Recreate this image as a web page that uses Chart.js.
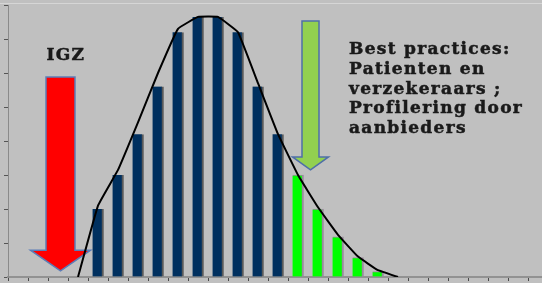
<!DOCTYPE html>
<html>
<head>
<meta charset="utf-8">
<script src="https://cdn.jsdelivr.net/npm/chart.js@4/dist/chart.umd.min.js"></script>
<style>
  html, body { margin: 0; padding: 0; background: #c0c0c0; overflow: hidden; }
  #wrap { position: relative; width: 548px; height: 283px; }
</style>
</head>
<body>
<div id="wrap"><canvas id="c"></canvas></div>
<script>
// ---- data ----
const categories = ["1","2","3","4","5","6","7","8","9","10","11","12","13","14","15","16","17","18","19","20","21","22","23","24","25","26","27"];
const blueValues  = [null,null,null,null, 2, 3, 4.2, 5.6, 7.2, 7.65, 7.65, 7.2, 5.6, 4.2, null,null,null,null,null,null,null,null,null,null,null,null,null];
const greenValues = [null,null,null,null,null,null,null,null,null,null,null,null,null,null, 3, 2, 1.18, 0.57, 0.16, null,null,null,null,null,null,null,null];
const curveValues = [null,null,null, 0, 2.1, 3.15, 4.55, 6.0, 7.3, 7.65, 7.65, 7.2, 5.7, 4.2, 3.0, 2.05, 1.24, 0.6, 0.2, 0, null,null,null,null,null,null,null];
const yMax = 8;
const leftLabel = "IGZ";
const rightLabel = ["Best practices:", "Patienten en", "verzekeraars ;", "Profilering door", "aanbieders"];

// annotation arrows (x = category index, y = value)
const redArrow   = { x: 2.125, top: 5.88, headBase: 0.79, tip: 0.18, shaftHalf: 14.5, headHalf: 30, fill: "#ff0000", stroke: "#5b7db8" };
const greenArrow = { x: 14.625, top: 7.53, headBase: 3.53, tip: 3.15, shaftHalf: 8.5, headHalf: 18, fill: "#92d050", stroke: "#4f6fa8" };

function drawArrow(ctx, xs, ys, a) {
  const cx = xs.getPixelForValue(a.x);
  const t = ys.getPixelForValue(a.top);
  const hb = ys.getPixelForValue(a.headBase);
  const tip = ys.getPixelForValue(a.tip);
  ctx.save();
  ctx.beginPath();
  ctx.moveTo(cx - a.shaftHalf, t);
  ctx.lineTo(cx + a.shaftHalf, t);
  ctx.lineTo(cx + a.shaftHalf, hb);
  ctx.lineTo(cx + a.headHalf, hb);
  ctx.lineTo(cx, tip);
  ctx.lineTo(cx - a.headHalf, hb);
  ctx.lineTo(cx - a.shaftHalf, hb);
  ctx.closePath();
  ctx.fillStyle = a.fill;
  ctx.fill();
  ctx.lineWidth = 1.5;
  ctx.strokeStyle = a.stroke;
  ctx.stroke();
  ctx.restore();
}

const decor = {
  id: "decor",
  beforeDraw(chart) {
    const ctx = chart.ctx;
    ctx.save();
    ctx.fillStyle = "#c0c0c0";
    ctx.fillRect(0, 0, chart.width, chart.height);
    ctx.strokeStyle = "#d6d6d6";
    ctx.lineWidth = 1;
    ctx.beginPath();
    ctx.moveTo(0, chart.chartArea.top - 1.5);
    ctx.lineTo(chart.width, chart.chartArea.top - 1.5);
    ctx.stroke();
    ctx.restore();
  },
  beforeDatasetsDraw(chart) {
    const ctx = chart.ctx;
    const xs = chart.scales.x, ys = chart.scales.y;
    drawArrow(ctx, xs, ys, redArrow);
    drawArrow(ctx, xs, ys, greenArrow);
  },
  afterDatasetsDraw(chart) {
    const ctx = chart.ctx;
    const xs = chart.scales.x;
    ctx.save();
    ctx.fillStyle = "#1a1a1a";
    ctx.strokeStyle = "#1a1a1a";
    ctx.lineWidth = 0.5;
    ctx.font = "bold 17px 'DejaVu Serif'";
    ctx.letterSpacing = "1.3px";
    ctx.textBaseline = "alphabetic";
    ctx.textAlign = "left";
    const ix = xs.getPixelForValue(redArrow.x) - 14;
    ctx.fillText(leftLabel, ix, 60);
    ctx.strokeText(leftLabel, ix, 60);
    const lx = xs.getPixelForValue(16.55);
    rightLabel.forEach((s, i) => {
      ctx.fillText(s, lx, 54 + i * 19.8);
      ctx.strokeText(s, lx, 54 + i * 19.8);
    });
    ctx.restore();
  }
};

new Chart(document.getElementById("c"), {
  type: "bar",
  data: {
    labels: categories,
    datasets: [
      { type: "line", data: curveValues, borderColor: "#000", borderWidth: 2, pointRadius: 0, tension: 0.08, order: 0, spanGaps: false },
      { data: blueValues, backgroundColor: "#00305f", borderColor: "#5a5a5a", borderWidth: { right: 2, left: 0, top: 0, bottom: 0 }, borderSkipped: false, barThickness: 11, grouped: false, order: 1 },
      { data: greenValues, backgroundColor: "#00ff00", borderColor: "#9a8a9c", borderWidth: { right: 2, left: 0, top: 1, bottom: 0 }, borderSkipped: false, barThickness: 11, grouped: false, order: 1 }
    ]
  },
  options: {
    responsive: true,
    maintainAspectRatio: false,
    animation: false,
    events: [],
    layout: { padding: { top: 5, left: 4, right: 0, bottom: 0 } },
    plugins: { legend: { display: false }, tooltip: { enabled: false } },
    scales: {
      x: {
        offset: true,
        grid: { display: true, drawOnChartArea: false, drawTicks: true, tickLength: 4, color: "#4a4a4a", offset: true },
        border: { display: true, color: "#929292", width: 2 },
        ticks: { display: false },
        afterFit(s) { s.height = 6; }
      },
      y: {
        min: 0, max: yMax,
        ticks: { display: false, stepSize: 1 },
        grid: { display: true, drawOnChartArea: false, drawTicks: true, tickLength: 4, color: "#555" },
        border: { display: true, color: "#8a8a8a", width: 1 },
        afterFit(s) { s.width = 4; }
      }
    }
  },
  plugins: [decor]
});
</script>
</body>
</html>
